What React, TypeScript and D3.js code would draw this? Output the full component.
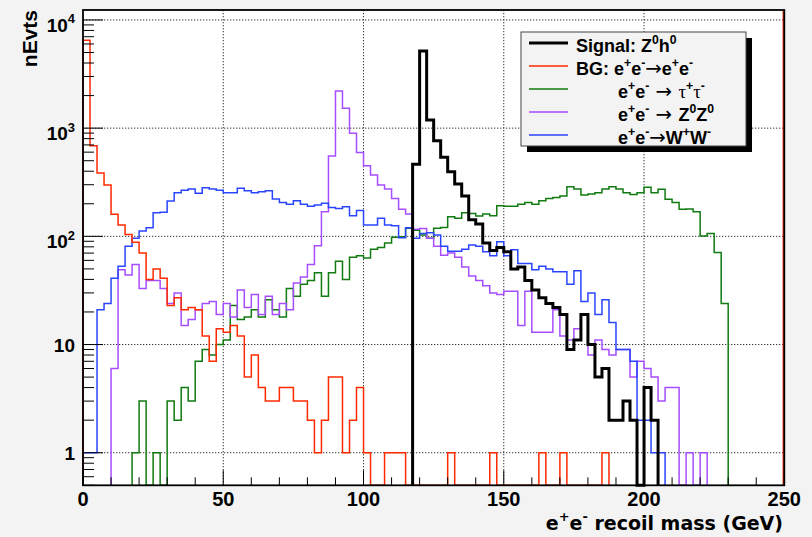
import { useEffect, useRef } from 'react'
import * as d3 from 'd3'

// 100 bins of 2.5 GeV, 0 - 250 GeV
const binWidth = 2.5
const xMax = 250

const signalZh = [
  0, 0, 0, 0, 0, 0, 0, 0, 0, 0,
  0, 0, 0, 0, 0, 0, 0, 0, 0, 0,
  0, 0, 0, 0, 0, 0, 0, 0, 0, 0,
  0, 0, 0, 0, 0, 0, 0, 0, 0, 0,
  0, 0, 0, 0, 0, 0, 0, 463, 5160, 1188,
  765, 537, 395, 304, 236, 142, 130, 87, 74, 79,
  72, 50, 52, 39, 32, 27, 24, 22, 19, 9,
  11, 19, 10, 5, 6, 2, 2, 3, 2, 0,
  4, 2, 0, 0, 0, 0, 0, 0, 0, 0,
  0, 0, 0, 0, 0, 0, 0, 0, 0, 0,
]

const bgEE = [
  6500, 688, 385, 298, 160, 127, 104, 88, 70, 40,
  50, 41, 23, 27, 21, 22, 21, 12, 7, 14,
  13, 15, 12, 5, 8, 4, 3, 3, 4, 4,
  3, 3, 2, 1, 2, 5, 5, 1, 2, 4,
  1, 0, 0, 1, 1, 1, 0, 0, 0, 0,
  0, 0, 1, 0, 0, 0, 0, 0, 1, 0,
  0, 0, 0, 0, 0, 1, 0, 0, 1, 0,
  0, 0, 0, 0, 1, 0, 0, 0, 0, 0,
  0, 0, 0, 0, 0, 0, 0, 0, 0, 0,
  0, 0, 0, 0, 0, 0, 0, 0, 0, 0,
]

const bgTauTau = [
  0, 0, 0, 0, 0, 0, 0, 1, 3, 0,
  1, 0, 3, 2, 4, 3, 7, 9, 8, 10,
  11, 23, 17, 18, 21, 18, 26, 21, 18, 33,
  28, 36, 39, 46, 28, 46, 59, 40, 64, 66,
  63, 76, 79, 87, 98, 99, 119, 114, 103, 96,
  119, 121, 152, 147, 165, 163, 154, 161, 155, 192,
  190, 190, 198, 205, 198, 213, 224, 229, 236, 288,
  274, 241, 246, 253, 274, 288, 274, 253, 244, 253,
  284, 253, 272, 220, 206, 178, 179, 169, 101, 106,
  71, 24, 0, 0, 0, 0, 0, 0, 0, 0,
]

const bgZZ = [
  0, 0, 0, 0, 6, 49, 44, 55, 33, 39,
  39, 33, 24, 30, 15, 17, 21, 24, 25, 19,
  24, 18, 32, 22, 29, 19, 28, 19, 24, 21,
  37, 42, 55, 82, 169, 552, 2200, 1525, 895, 597,
  450, 369, 298, 274, 224, 178, 161, 116, 118, 96,
  81, 67, 70, 64, 52, 43, 39, 35, 30, 29,
  31, 31, 15, 31, 13, 13, 13, 21, 12, 11,
  14, 19, 8, 11, 9, 8, 9, 9, 5, 7,
  6, 5, 3, 4, 4, 0, 1, 0, 1, 0,
  0, 0, 0, 0, 0, 0, 0, 0, 0, 0,
]

const bgWW = [
  1, 1, 21, 24, 41, 53, 81, 96, 112, 120,
  165, 167, 212, 253, 266, 274, 250, 281, 274, 267,
  253, 253, 278, 264, 253, 258, 264, 221, 205, 198,
  213, 198, 190, 195, 202, 185, 181, 188, 155, 173,
  127, 127, 147, 127, 125, 97, 120, 96, 106, 108,
  103, 81, 73, 73, 76, 83, 81, 72, 66, 89,
  66, 75, 56, 56, 49, 53, 50, 47, 47, 36,
  48, 25, 30, 19, 26, 16, 9, 9, 7, 2,
  2, 1, 1, 0, 0, 0, 0, 0, 0, 0,
  0, 0, 0, 0, 0, 0, 0, 0, 0, 0,
]

const xTicks = [0, 50, 100, 150, 200, 250]
const yTicks = [1, 10, 100, 1000, 10000]
const yTickExp = ['', '', '2', '3', '4'] // 10^n labels

// legend text pieces: sup = superscript, sym = symbol font, arr = arrow
const legendEntries = [
  { color: '#000000', w: 3, indent: false, segs: [{ t: 'Signal: Z' }, { t: '0', sup: true }, { t: 'h' }, { t: '0', sup: true }] },
  { color: '#ff2a00', w: 1.5, indent: false, segs: [{ t: 'BG: e' }, { t: '+', sup: true }, { t: 'e' }, { t: '-', sup: true }, { t: '→', arr: true }, { t: 'e' }, { t: '+', sup: true }, { t: 'e' }, { t: '-', sup: true }] },
  { color: '#117a11', w: 1.5, indent: true, segs: [{ t: 'e' }, { t: '+', sup: true }, { t: 'e' }, { t: '-', sup: true }, { t: ' → ', arr: true }, { t: 'τ', sym: true }, { t: '+', sup: true }, { t: 'τ', sym: true }, { t: '-', sup: true }] },
  { color: '#a64dff', w: 1.5, indent: true, segs: [{ t: 'e' }, { t: '+', sup: true }, { t: 'e' }, { t: '-', sup: true }, { t: ' → ', arr: true }, { t: 'Z' }, { t: '0', sup: true }, { t: 'Z' }, { t: '0', sup: true }] },
  { color: '#2a45ff', w: 1.5, indent: true, segs: [{ t: 'e' }, { t: '+', sup: true }, { t: 'e' }, { t: '-', sup: true }, { t: '→', arr: true }, { t: 'W' }, { t: '+', sup: true }, { t: 'W' }, { t: '-', sup: true }] },
]

const FONT = "'Liberation Sans', Arial, Helvetica, sans-serif"
const WIDEFONT = "'DejaVu Sans', Verdana, sans-serif"
const SYMFONT = "'Liberation Serif', 'Times New Roman', serif"

// text with superscripts, built from tspans
const addRich = (g, x, y, segs, size, anchor, family = FONT) => {
  const text = g
    .append('text')
    .attr('x', x)
    .attr('y', y)
    .attr('font-family', family)
    .attr('font-weight', 'bold')
    .attr('font-size', size)
    .attr('text-anchor', anchor)
    .attr('fill', '#000')
  let shift = 0
  segs.forEach((s) => {
    const target = s.sup ? -size * 0.45 : 0
    const ts = text.append('tspan').attr('dy', target - shift).text(s.t)
    shift = target
    if (s.sup) ts.attr('font-size', size * 0.68)
    if (s.sym) ts.attr('font-family', SYMFONT).attr('font-weight', 'normal').attr('font-size', size * 1.05)
    if (s.arr) ts.attr('font-family', WIDEFONT).attr('font-weight', 'normal').attr('font-size', size * 1.1)
  })
  return text
}

const App = () => {
  const svgRef = useRef(null)

  useEffect(() => {
    const svg = d3.select(svgRef.current)
    svg.selectAll('*').remove()

    const width = 812
    const height = 537
    const left = 83
    const right = 784.3
    const top = 10
    const bottom = 485.3

    const x = d3.scaleLinear().domain([0, xMax]).range([left, right])
    const y = d3.scaleLog().domain([0.5, 12360]).range([bottom, top])

    // canvas + pad
    svg.append('rect').attr('width', width).attr('height', height).attr('fill', '#f3f3f3')
    svg
      .append('rect')
      .attr('x', left)
      .attr('y', top)
      .attr('width', right - left)
      .attr('height', bottom - top)
      .attr('fill', '#ffffff')

    // dotted grid
    const grid = svg.append('g').attr('stroke', '#333').attr('stroke-width', 1).attr('stroke-dasharray', '1.3 1.7')
    xTicks.slice(1, -1).forEach((v) => {
      grid.append('line').attr('x1', x(v)).attr('x2', x(v)).attr('y1', top).attr('y2', bottom)
    })
    yTicks.forEach((v) => {
      grid.append('line').attr('x1', left).attr('x2', right).attr('y1', y(v)).attr('y2', y(v))
    })

    // histogram outline as steps, empty bins sit on the bottom of the frame
    const yv = (v) => (v > 0 ? y(Math.min(v, 12360)) : bottom)
    const stepPath = (vals) => {
      const first = vals.findIndex((v) => v > 0)
      const last = vals.length - 1 - [...vals].reverse().findIndex((v) => v > 0)
      let d = `M${x(first * binWidth)},${bottom}`
      for (let i = first; i <= last; i++) {
        const yy = yv(vals[i])
        d += `L${x(i * binWidth)},${yy}L${x((i + 1) * binWidth)},${yy}`
      }
      d += `L${x((last + 1) * binWidth)},${bottom}`
      return d
    }

    const series = [
      { vals: bgTauTau, color: '#117a11', w: 1.5 },
      { vals: bgZZ, color: '#a64dff', w: 1.5 },
      { vals: bgWW, color: '#2a45ff', w: 1.5 },
      { vals: bgEE, color: '#ff2a00', w: 1.5 },
      { vals: signalZh, color: '#000000', w: 3 },
    ]
    series.forEach((s) => {
      svg
        .append('path')
        .attr('d', stepPath(s.vals))
        .attr('fill', 'none')
        .attr('stroke', s.color)
        .attr('stroke-width', s.w)
        .attr('stroke-linejoin', 'miter')
    })

    // red overflow line along the right edge
    svg
      .append('line')
      .attr('x1', x(xMax) - 1)
      .attr('x2', x(xMax) - 1)
      .attr('y1', top)
      .attr('y2', bottom)
      .attr('stroke', '#ff2a00')
      .attr('stroke-width', 1.5)

    // tick marks (inside)
    const ticks = svg.append('g').attr('stroke', '#000').attr('stroke-width', 1)
    d3.range(0, xMax + 1, 10).forEach((v) => {
      const len = v % 50 === 0 ? 15 : 8
      ticks.append('line').attr('x1', x(v)).attr('x2', x(v)).attr('y1', bottom).attr('y2', bottom - len)
    })
    for (let e = -1; e <= 4; e++) {
      for (let m = 1; m <= 9; m++) {
        const v = m * Math.pow(10, e)
        if (v < 0.5 || v > 12360) continue
        const len = m === 1 ? 20 : 11
        ticks.append('line').attr('x1', left).attr('x2', left + len).attr('y1', y(v)).attr('y2', y(v))
      }
    }

    // frame
    svg
      .append('rect')
      .attr('x', left)
      .attr('y', top)
      .attr('width', right - left)
      .attr('height', bottom - top)
      .attr('fill', 'none')
      .attr('stroke', '#000')
      .attr('stroke-width', 1.8)

    // x labels
    xTicks.forEach((v) => {
      svg
        .append('text')
        .attr('x', x(v))
        .attr('y', 506)
        .attr('text-anchor', 'middle')
        .attr('font-family', FONT)
        .attr('font-weight', 'bold')
        .attr('font-size', 20)
        .text(String(v))
    })

    // y labels
    yTicks.forEach((v, i) => {
      if (yTickExp[i]) {
        addRich(svg, 75, y(v) + 12, [{ t: '10' }, { t: yTickExp[i], sup: true }], 19, 'end')
      } else {
        addRich(svg, 75, y(v) + 7.5, [{ t: String(v) }], 19, 'end')
      }
    })

    // axis titles
    svg
      .append('text')
      .attr('transform', 'translate(37, 10) rotate(-90)')
      .attr('text-anchor', 'end')
      .attr('font-family', FONT)
      .attr('font-weight', 'bold')
      .attr('font-size', 21)
      .text('nEvts')

    addRich(
      svg,
      783,
      530,
      [{ t: 'e' }, { t: '+', sup: true }, { t: 'e' }, { t: '-', sup: true }, { t: ' recoil mass (GeV)' }],
      19,
      'end',
      WIDEFONT
    )

    // legend
    const lg = svg.append('g')
    lg.append('rect').attr('x', 527).attr('y', 38).attr('width', 225).attr('height', 114).attr('fill', '#000')
    lg.append('rect')
      .attr('x', 521)
      .attr('y', 32)
      .attr('width', 225)
      .attr('height', 114)
      .attr('fill', '#f3f3f3')
      .attr('stroke', '#444')
      .attr('stroke-width', 1)
    legendEntries.forEach((e, i) => {
      const ly = 43 + i * 23
      lg.append('line')
        .attr('x1', 529)
        .attr('x2', 568)
        .attr('y1', ly)
        .attr('y2', ly)
        .attr('stroke', e.color)
        .attr('stroke-width', e.w)
      addRich(lg, e.indent ? 618 : 576, ly + 9, e.segs, 18, 'start')
    })
  }, [])

  return (
    <svg
      ref={svgRef}
      width='812'
      height='537'
      style={{ position: 'absolute', left: 0, top: 0 }}
    />
  )
}

export default App
